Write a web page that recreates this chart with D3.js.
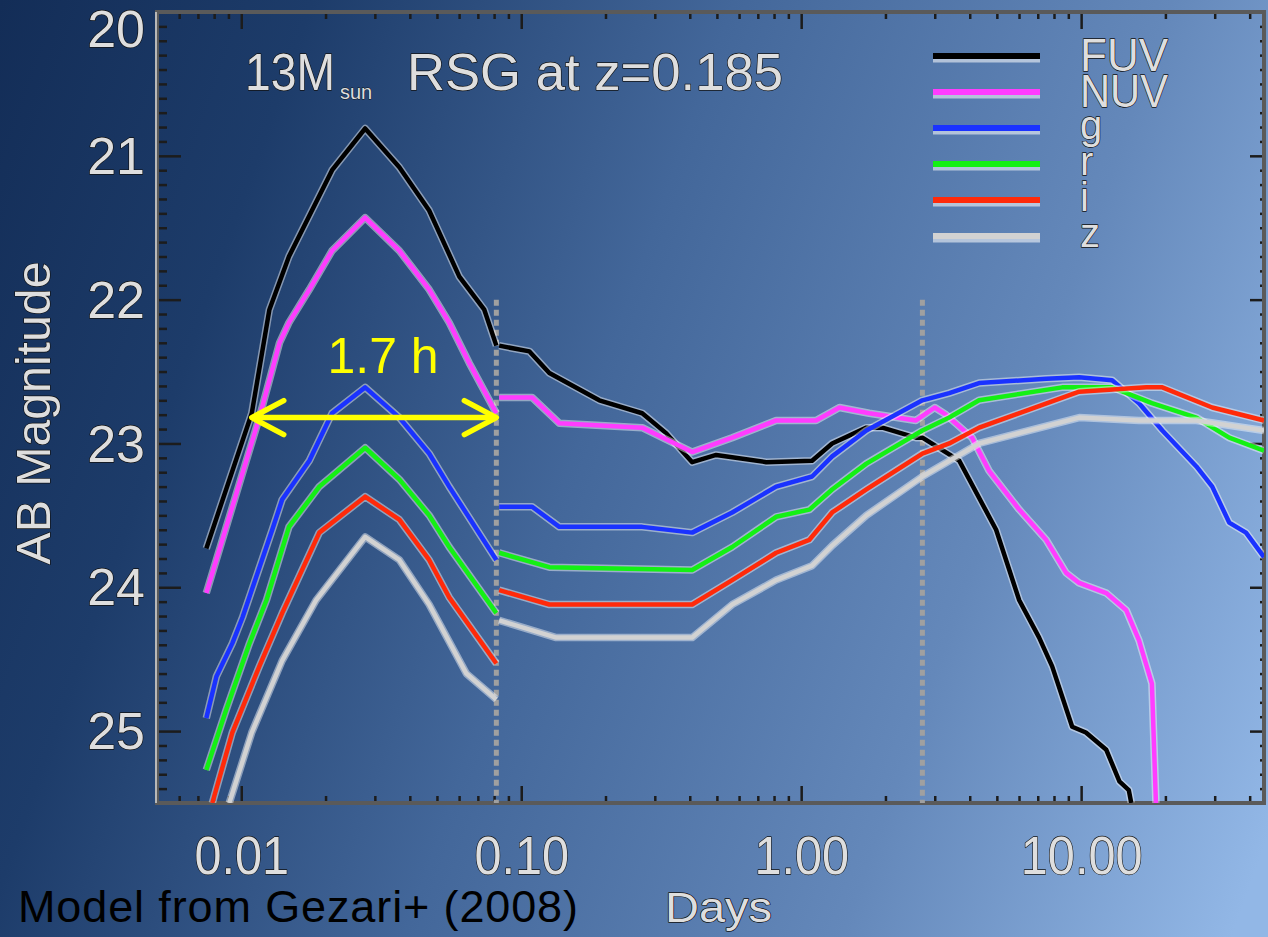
<!DOCTYPE html>
<html><head><meta charset="utf-8">
<script src="https://cdn.jsdelivr.net/npm/d3@7"></script>
<style>body{margin:0;background:#000}svg{display:block}</style>
</head><body>
<svg id="chart" width="1268" height="937"></svg>
<script>
// ---------------- data (days, AB magnitude) ----------------
const bands = ["FUV", "NUV", "g", "r", "i", "z"];

const fuvEarly = [[0.0075,23.73],[0.0109,22.79],[0.0126,22.07],[0.0148,21.70],[0.0211,21.10],[0.0277,20.81],[0.0367,21.08],[0.0469,21.38],[0.0601,21.84],[0.0738,22.07],[0.0815,22.32]];
const fuvLate = [[0.0834,22.32],[0.107,22.36],[0.126,22.51],[0.190,22.70],[0.2705,22.79],[0.330,22.93],[0.408,23.13],[0.497,23.08],[0.750,23.13],[1.094,23.12],[1.29,23.00],[1.71,22.89],[1.95,22.89],[2.57,22.96],[2.71,22.96],[3.67,23.12],[4.97,23.60],[6.01,24.09],[7.08,24.35],[7.88,24.55],[9.29,24.97],[10.4,25.01],[12.3,25.13],[13.7,25.35],[14.8,25.41],[15.1,25.5]];

const nuvEarly = [[0.0075,24.04],[0.0116,22.82],[0.0137,22.30],[0.0148,22.16],[0.0175,21.93],[0.0211,21.66],[0.0277,21.43],[0.0367,21.66],[0.0469,21.93],[0.0553,22.16],[0.0652,22.44],[0.0815,22.79]];
const nuvLate = [[0.0834,22.68],[0.1094,22.68],[0.1368,22.86],[0.2705,22.89],[0.408,23.06],[0.567,22.96],[0.814,22.84],[1.13,22.84],[1.37,22.75],[1.75,22.79],[2.57,22.84],[3.0,22.75],[3.29,22.80],[4.08,22.96],[4.69,23.19],[6.01,23.46],[7.50,23.67],[8.84,23.90],[9.84,23.97],[12.3,24.04],[14.5,24.16],[16.1,24.37],[16.5,24.44],[17.9,24.67],[18.5,25.5]];

const gEarly = [[0.0075,24.91],[0.00815,24.62],[0.00929,24.39],[0.0101,24.21],[0.0129,23.60],[0.0140,23.39],[0.0175,23.12],[0.0211,22.79],[0.0277,22.61],[0.0367,22.82],[0.0469,23.07],[0.0553,23.30],[0.0815,23.81]];
const gLate = [[0.0834,23.44],[0.1094,23.44],[0.1368,23.58],[0.2705,23.58],[0.408,23.62],[0.567,23.48],[0.814,23.30],[1.094,23.23],[1.29,23.09],[1.71,22.91],[2.71,22.70],[3.38,22.65],[4.32,22.58],[7.50,22.55],[9.84,22.54],[12.9,22.56],[16.1,22.72],[19.5,22.91],[25.8,23.16],[29.4,23.30],[33.8,23.55],[38.8,23.62],[45,23.79]];

const rEarly = [[0.0075,25.27],[0.00884,24.85],[0.0107,24.39],[0.0123,24.09],[0.0148,23.58],[0.0190,23.30],[0.0277,23.03],[0.0367,23.25],[0.0469,23.50],[0.0553,23.72],[0.0815,24.18]];
const rLate = [[0.0834,23.76],[0.126,23.86],[0.408,23.88],[0.567,23.72],[0.814,23.51],[1.07,23.46],[1.29,23.32],[1.71,23.14],[2.71,22.91],[3.38,22.82],[4.32,22.70],[8.55,22.61],[12.9,22.61],[17.9,22.72],[25.8,22.82],[33.8,22.96],[45,23.05]];

const iEarly = [[0.00788,25.5],[0.00929,25.01],[0.0116,24.55],[0.0140,24.18],[0.0190,23.62],[0.0277,23.37],[0.0367,23.53],[0.0469,23.81],[0.0553,24.07],[0.0815,24.53]];
const iLate = [[0.0834,24.02],[0.126,24.12],[0.408,24.12],[0.567,23.95],[0.814,23.76],[1.07,23.67],[1.29,23.48],[1.71,23.32],[2.71,23.07],[3.38,23.00],[4.32,22.89],[9.84,22.64],[17.1,22.61],[19.5,22.61],[29.4,22.75],[45,22.84]];

const zEarly = [[0.00906,25.5],[0.0109,25.01],[0.0140,24.51],[0.0185,24.09],[0.0277,23.65],[0.0367,23.81],[0.0469,24.12],[0.0637,24.60],[0.0815,24.78]];
const zLate = [[0.0834,24.23],[0.1334,24.35],[0.408,24.35],[0.567,24.12],[0.814,23.95],[1.094,23.85],[1.29,23.71],[1.71,23.50],[2.71,23.23],[4.32,23.00],[9.84,22.82],[16.1,22.84],[25.8,22.84],[45,22.91]];

const xMajorTicks = [0.01, 0.1, 1, 10];
const xTickLabels = ["0.01", "0.10", "1.00", "10.00"];
const yMajorTicks = [20, 21, 22, 23, 24, 25];
const markerDays = [0.0815, 2.71];   // dotted vertical lines
const markerTopMag = 22.0;
const arrowDays = [0.0109, 0.0815];  // 1.7 h double arrow
const arrowMag = 22.82;
const arrowLabel = "1.7 h";
const arrowLabelPos = [0.0321, 22.51];

// ---------------- style ----------------
const colors = {FUV:"#000000", NUV:"#ff3cff", g:"#1a32ff", r:"#14f014", i:"#ff2a0a", z:"#d2d2d2"};
const series = {FUV:[fuvEarly,fuvLate], NUV:[nuvEarly,nuvLate], g:[gEarly,gLate], r:[rEarly,rLate], i:[iEarly,iLate], z:[zEarly,zLate]};

const W = 1268, H = 937;
const svg = d3.select("#chart");
const defs = svg.append("defs");
const grad = defs.append("linearGradient").attr("id","bg")
  .attr("gradientUnits","userSpaceOnUse").attr("x1",0).attr("y1",0).attr("x2",1390).attr("y2",490);
[[0,"#132d57"],[0.2,"#1d3c6a"],[0.47,"#43679a"],[0.75,"#6488ba"],[1,"#92b7e6"]]
  .forEach(s => grad.append("stop").attr("offset",s[0]).attr("stop-color",s[1]));
svg.append("rect").attr("width",W).attr("height",H).attr("fill","url(#bg)");

const x = d3.scaleLog().domain([0.005, 45]).range([157, 1264]);
const y = d3.scaleLinear().domain([20, 25.5]).range([12, 803]);
const [x0, x1] = x.range(), [y0, y1] = y.range();

defs.append("clipPath").attr("id","plotclip").append("rect")
  .attr("x",x0).attr("y",y0).attr("width",x1-x0).attr("height",y1-y0);

const idlText = sel => sel.attr("font-family","Liberation Sans, Arial, sans-serif")
  .attr("fill","#dedede").attr("stroke","#111").attr("stroke-width",1.3)
  .attr("paint-order","stroke").attr("stroke-linejoin","round");

// ---------------- axes ----------------
const xMinor = x.ticks(40).filter(v => !xMajorTicks.some(m => Math.abs(m - v) < 1e-9));
const yMinor = d3.range(200, 256).map(v => v / 10).filter(v => !Number.isInteger(v));

const tickStyle = g => { g.select(".domain").remove();
  g.selectAll(".tick line").attr("stroke","#1c1c1c").attr("stroke-width",2.5); };

svg.append("g").attr("transform",`translate(0,${y1})`)
  .call(d3.axisBottom(x).tickValues(xMinor).tickSize(-7).tickFormat("")).call(tickStyle);
const xb = svg.append("g").attr("transform",`translate(0,${y1})`)
  .call(d3.axisBottom(x).tickValues(xMajorTicks).tickSize(-17).tickPadding(33)
  .tickFormat((d,i) => xTickLabels[i])).call(tickStyle);
xb.selectAll("text").attr("font-size",54).call(idlText)
  .each(function(){ const w = this.getComputedTextLength(); d3.select(this).attr("textLength", w*0.9).attr("lengthAdjust","spacingAndGlyphs"); });

svg.append("g").attr("transform",`translate(0,${y0})`)
  .call(d3.axisTop(x).tickValues(xMinor).tickSize(-7).tickFormat("")).call(tickStyle);
svg.append("g").attr("transform",`translate(0,${y0})`)
  .call(d3.axisTop(x).tickValues(xMajorTicks).tickSize(-17).tickFormat("")).call(tickStyle);

svg.append("g").attr("transform",`translate(${x0},0)`)
  .call(d3.axisLeft(y).tickValues(yMinor).tickSize(-10).tickFormat("")).call(tickStyle);
const yl = svg.append("g").attr("transform",`translate(${x0},0)`)
  .call(d3.axisLeft(y).tickValues(yMajorTicks).tickSize(-24).tickPadding(12).tickFormat(d3.format("d")))
  .call(tickStyle);
yl.selectAll("text").attr("font-size",52).call(idlText)
  .attr("dy", d => d === 20 ? "0.66em" : "0.34em");

svg.append("g").attr("transform",`translate(${x1},0)`)
  .call(d3.axisRight(y).tickValues(yMinor).tickSize(-4).tickFormat("")).call(tickStyle);
svg.append("g").attr("transform",`translate(${x1},0)`)
  .call(d3.axisRight(y).tickValues(yMajorTicks).tickSize(-14).tickFormat("")).call(tickStyle);

// frame
svg.append("rect").attr("x",x0).attr("y",y0).attr("width",x1-x0).attr("height",y1-y0)
  .attr("fill","none").attr("stroke","#5a5a5a").attr("stroke-width",4);
svg.append("line").attr("x1",x0-1).attr("x2",x0-1).attr("y1",y0).attr("y2",y1)
  .attr("stroke","#d8d8d8").attr("stroke-width",1.5);

// dotted markers
svg.append("g").selectAll("line").data(markerDays).join("line")
  .attr("x1",d=>x(d)).attr("x2",d=>x(d)).attr("y1",y(markerTopMag)).attr("y2",y1)
  .attr("stroke","#a0a0a0").attr("stroke-width",5).attr("stroke-dasharray","6,4");

// ---------------- curves ----------------
const line = d3.line().x(d => x(d[0])).y(d => y(d[1]));
const plot = svg.append("g").attr("clip-path","url(#plotclip)");
bands.forEach(b => {
  series[b].forEach(seg => {
    plot.append("path").attr("d", line(seg)).attr("fill","none")
      .attr("stroke","#ffffff").attr("stroke-opacity",0.45).attr("stroke-width",7.5)
      .attr("stroke-linejoin","round");
    plot.append("path").attr("d", line(seg)).attr("fill","none")
      .attr("stroke",colors[b]).attr("stroke-width",4.5).attr("stroke-linejoin","round");
  });
});

// ---------------- legend ----------------
const legend = svg.append("g");
bands.forEach((b,i) => {
  const ly = 56 + i*36;
  legend.append("line").attr("x1",933).attr("x2",1040).attr("y1",ly+2).attr("y2",ly+2)
    .attr("stroke","#ffffff").attr("stroke-opacity",0.55).attr("stroke-width",9);
  legend.append("line").attr("x1",933).attr("x2",1040).attr("y1",ly).attr("y2",ly)
    .attr("stroke",colors[b]).attr("stroke-width",6);
  const upper = b.length > 1;
  const t = legend.append("text").attr("x",1080).attr("y", ly + (upper ? 15 : 11))
    .attr("font-size", upper ? 46 : 40).text(b).call(idlText);
  if (upper) t.attr("textLength", 88).attr("lengthAdjust","spacingAndGlyphs");
});

// ---------------- title ----------------
svg.append("text").attr("x",245).attr("y",90).attr("font-size",52).text("13M").call(idlText)
  .attr("textLength",90).attr("lengthAdjust","spacingAndGlyphs");
svg.append("text").attr("x",340).attr("y",99).attr("font-size",20).text("sun").call(idlText)
  .attr("stroke-width",0.8);
svg.append("text").attr("x",407).attr("y",90).attr("font-size",52).text("RSG at z=0.185").call(idlText)
  .attr("textLength",376).attr("lengthAdjust","spacingAndGlyphs");

// axis titles
svg.append("text").attr("transform","translate(50,413) rotate(-90)").attr("text-anchor","middle")
  .attr("font-size",48).text("AB Magnitude").call(idlText)
  .attr("textLength",303).attr("lengthAdjust","spacingAndGlyphs");
svg.append("text").attr("x",665).attr("y",922).attr("font-size",42).text("Days").call(idlText)
  .attr("textLength",107).attr("lengthAdjust","spacingAndGlyphs");

// ---------------- annotation ----------------
const ax0 = x(arrowDays[0]), ax1 = x(arrowDays[1]), ay = y(arrowMag);
const ann = svg.append("g").attr("stroke","#ffff00").attr("stroke-width",5.5)
  .attr("fill","none").attr("stroke-linecap","round").attr("stroke-linejoin","round");
ann.append("line").attr("x1",ax0+3).attr("x2",ax1-3).attr("y1",ay).attr("y2",ay);
ann.append("polyline").attr("points",`${ax0+32},${ay-17} ${ax0},${ay} ${ax0+32},${ay+17}`);
ann.append("polyline").attr("points",`${ax1-32},${ay-17} ${ax1},${ay} ${ax1-32},${ay+17}`);
svg.append("text").attr("x",x(arrowLabelPos[0])).attr("y",y(arrowLabelPos[1])).attr("text-anchor","middle")
  .attr("font-family","Liberation Sans, Arial, sans-serif").attr("font-size",50)
  .attr("fill","#ffff00").text(arrowLabel);

svg.append("text").attr("x",18).attr("y",922).attr("font-family","Liberation Sans, Arial, sans-serif")
  .attr("font-size",45).attr("fill","#000").text("Model from Gezari+ (2008)")
  .attr("textLength",560).attr("lengthAdjust","spacing");
</script>
</body></html>
